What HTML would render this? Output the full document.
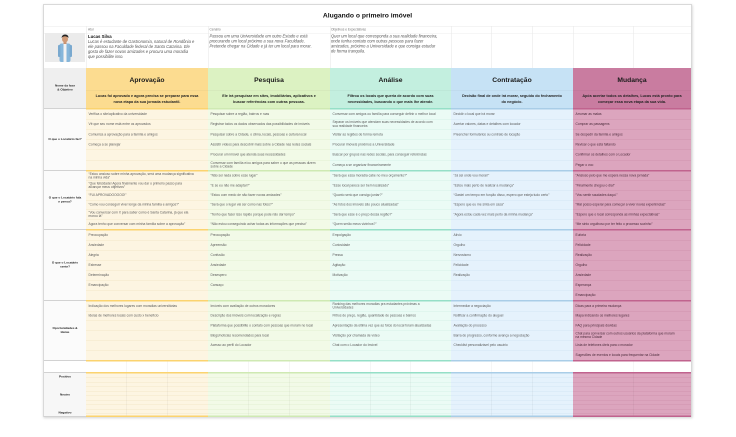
<!DOCTYPE html>
<html><head><meta charset="utf-8">
<style>
html,body{margin:0;padding:0;background:#fff;width:736px;height:437px;overflow:hidden}
#w{position:absolute;left:0;top:0;width:1472px;height:874px;transform:scale(.5);transform-origin:0 0;font-family:"Liberation Sans",sans-serif;color:#333}
.a{position:absolute}
.card{left:86px;top:8px;width:1298px;height:826px;border:2px solid #d9d9d9;box-sizing:border-box;background:#fff;box-shadow:1px 2px 5px rgba(0,0,0,.18)}
.title{left:88px;top:10px;width:1294px;height:42px;line-height:42px;text-align:center;font-weight:bold;font-size:13.5px;color:#111;border-bottom:1px solid #ececec}
.lab{top:53px;height:13px;line-height:13px;font-size:6.4px;color:#777}
.vl{width:1px;background:#e6e6e6}
.pt{font-size:8.2px;line-height:10px;font-style:italic;color:#555;white-space:nowrap}
.col{top:0;height:834px}
.h{position:absolute;left:0;right:0;top:136px;height:80px;background:var(--h)}
.h .t{position:absolute;left:0;right:0;top:12px;height:24px;line-height:24px;text-align:center;font-weight:bold;font-size:13.5px;color:#1a1a1a}
.h .d{position:absolute;left:0;right:0;top:44px;border-top:1px solid rgba(0,0,0,.06);padding-top:5px;text-align:center;font-weight:bold;font-size:7.5px;line-height:12px;color:#222;white-space:nowrap}
.g{position:absolute;left:0;right:0;display:flex;flex-direction:column;border-top:3px solid var(--l);background:var(--b);box-sizing:border-box}
.g>div{flex:1;display:flex;align-items:center;padding:0 5px;border-bottom:1px solid var(--s);font-size:6.6px;line-height:7.6px;color:#5a5a5a;white-space:nowrap;overflow:hidden}
.g>div:last-child{border-bottom:none}
.k{position:absolute;left:0;right:0;top:720px;height:24px;background:#fff;border-top:3px solid var(--l);box-sizing:border-box}
.e{position:absolute;left:0;right:0;top:744px;height:90px;background:var(--b);border-top:3px solid var(--l);border-bottom:3px solid var(--l);box-sizing:border-box;
 background-image:repeating-linear-gradient(180deg,transparent 0,transparent 8px,var(--s) 8px,var(--s) 9px)}
.sc{position:absolute;top:0;bottom:0;width:1px;background:rgba(0,0,0,.07)}
.s1{--h:#fcdc90;--b:#fdf5e2;--l:#fbd36f;--s:#f3e7c8}
.s2{--h:#dcf2c2;--b:#f2fae7;--l:#cfe9b3;--s:#e2f0d2}
.s3{--h:#c3efdf;--b:#ebfbf5;--l:#95dfc7;--s:#d5f0e7}
.s4{--h:#c6e2f5;--b:#e5f2fc;--l:#a9cde7;--s:#d2e5f3}
.s5{--h:#c97ca0;--b:#dca5be;--l:#c0638e;--s:#cf92ae}
.s5 .g>div{color:#4a2a3a}
.lg{position:absolute;left:0;right:0;border-top:2px solid #d2d2d2;background:#fbfbfb;box-sizing:border-box;display:flex;align-items:center;justify-content:center;text-align:center;font-weight:bold;font-size:6.2px;line-height:8px;color:#222}
</style></head><body><div id="w">
<div class="a card"></div>
<div class="a title">Alugando o primeiro imóvel</div>

<!-- label row -->
<div class="a" style="left:88px;top:52px;width:1294px;height:1px;background:#e8e8e8"></div>
<div class="a" style="left:88px;top:66px;width:1294px;height:1px;background:#ececec"></div>
<div class="a lab" style="left:176px">Ator</div>
<div class="a lab" style="left:419px">Cenário</div>
<div class="a lab" style="left:662px">Objetivos e Expectativas</div>
<div class="a vl" style="left:172px;top:52px;height:84px"></div>
<div class="a vl" style="left:416px;top:52px;height:84px"></div>
<div class="a vl" style="left:660px;top:52px;height:84px"></div>
<div class="a vl" style="left:902px;top:52px;height:84px"></div>
<div class="a vl" style="left:982px;top:52px;height:84px"></div>
<div class="a vl" style="left:1064px;top:52px;height:84px"></div>
<div class="a vl" style="left:1146px;top:52px;height:84px"></div>
<div class="a vl" style="left:1266px;top:52px;height:84px"></div>

<!-- photo -->
<div class="a" style="left:90px;top:66px;width:80px;height:58px;background:#ebebeb">
<svg width="80" height="58" viewBox="0 0 80 58">
<rect x="29" y="21" width="22" height="37" rx="4" fill="#86b6da"/>
<rect x="37" y="21" width="6" height="37" fill="#f2f2f2"/>
<rect x="26" y="24" width="5" height="24" rx="2" fill="#7aa9cf"/>
<rect x="49" y="24" width="5" height="24" rx="2" fill="#7aa9cf"/>
<rect x="37" y="17" width="6" height="5" fill="#c99270"/>
<ellipse cx="40" cy="12" rx="6" ry="7" fill="#d09a76"/>
<path d="M33 10 Q34 3 40 3 Q47 3 47 10 L45 8 Q40 5 35 8 Z" fill="#222"/>
</svg></div>

<!-- persona text -->
<div class="a" style="left:176px;top:68px;font-weight:bold;font-size:8.6px;color:#111">Lucas Silva</div>
<div class="a pt" style="left:176px;top:79px">Lucas é estudante de Gastronomia, natural de Rondônia e<br>ele passou na Faculdade federal de Santa Catarina. Ele<br>gosta de fazer novas amizades e procura uma moradia<br>que possibilite isso.</div>
<div class="a pt" style="left:419px;top:68px">Passou em uma Universidade em outro Estado e está<br>procurando um local próximo a sua nova Faculdade.<br>Pretende chegar na Cidade e já ter um local para morar.</div>
<div class="a pt" style="left:662px;top:68px">Quer um local que corresponda a sua realidade financeira,<br>onde tenha contato com outras pessoas para fazer<br>amizades, próximo a Universidade e que consiga estudar<br>de forma tranquila.</div>

<!-- left label column -->
<div class="a" style="left:88px;top:136px;width:84px;height:80px;background:#efefef;display:flex;align-items:center;justify-content:center;text-align:center;font-weight:bold;font-size:6.2px;line-height:8px;color:#222">Nome da fase<br>&amp; Objetivo</div>
<div class="a" style="left:88px;top:0;width:84px;height:834px">
<div class="lg" style="top:216px;height:124px">O que o Locatário faz?</div>
<div class="lg" style="top:340px;height:118px">O que o Locatário fala<br>e pensa?</div>
<div class="lg" style="top:458px;height:142px">O que o Locatário<br>sente?</div>
<div class="lg" style="top:600px;height:120px">Oportunidades &amp;<br>Ideias</div>
<div class="lg" style="top:720px;height:24px;background:#fff"></div>
<div class="lg" style="top:744px;height:90px;background:#f7f7f7;border-bottom:2px solid #d2d2d2;display:block">
<div style="position:absolute;left:0;right:0;top:4px">Positivo</div>
<div style="position:absolute;left:0;right:0;top:40px">Neutro</div>
<div style="position:absolute;left:0;right:0;top:76px">Negativo</div>
</div>
</div>

<!-- Stage 1 Aprovação -->
<div class="a col s1" style="left:172px;width:244px">
<div class="h"><div class="t">Aprovação</div><div class="d">Lucas foi aprovado e agora precisa se preparar para essa<br>nova etapa da sua jornada estudantil.</div></div>
<div class="g" style="top:216px;height:124px"><div>Verifica o site/aplicativo da universidade</div><div>Vê que seu nome está entre os aprovados</div><div>Comunica a aprovação para a família e amigos</div><div>Começa a se planejar</div><div></div><div></div></div>
<div class="g" style="top:340px;height:118px"><div>“Estou ansioso sobre minha aprovação, será uma mudança significativa<br>na minha vida”</div><div>“Que felicidade! Agora finalmente vou dar o primeiro passo para<br>alcançar meus objetivos”</div><div>“FUI APROVADOOOOO!”</div><div>“Como vou conseguir viver longe da minha família e amigos?”</div><div>“Vou conversar com X para saber como é Santa Catarina, já que ela<br>morou lá”</div><div>Agora tenho que conversar com minha família sobre a aprovação”</div></div>
<div class="g" style="top:458px;height:142px"><div>Preocupação</div><div>Ansiedade</div><div>Alegria</div><div>Estresse</div><div>Determinação</div><div>Emancipação</div><div></div></div>
<div class="g" style="top:600px;height:120px"><div>Indicação dos melhores lugares com moradias universitárias</div><div>Ideias de melhores locais com custo x benefício</div><div></div><div></div><div></div><div></div></div>
<div class="k"><div class="sc" style="left:81px"></div><div class="sc" style="left:162px"></div></div>
<div class="e"><div class="sc" style="left:81px"></div><div class="sc" style="left:162px"></div></div>
</div>

<!-- Stage 2 Pesquisa -->
<div class="a col s2" style="left:416px;width:244px">
<div class="h"><div class="t">Pesquisa</div><div class="d">Ele irá pesquisar em sites, imobiliárias, aplicativos e<br>buscar referências com outras pessoas.</div></div>
<div class="g" style="top:216px;height:124px"><div>Pesquisar sobre a região, bairros e ruas</div><div>Registrar todos os dados observados das possibilidades de imóveis</div><div>Pesquisar sobre a Cidade, o clima, locais, pessoas e cultura local</div><div>Assistir vídeos para descobrir mais sobre a Cidade nas redes sociais</div><div>Procurar um imóvel que atenda suas necessidades</div><div>Conversar com família e/ou amigos para saber o que as pessoas dizem<br>sobre a Cidade</div></div>
<div class="g" style="top:340px;height:118px"><div>“Não sei nada sobre esse lugar”</div><div>“E se eu não me adaptar?”</div><div>“Estou com medo de não fazer novas amizades”</div><div>“Será que o lugar vai ser como nas fotos?”</div><div>“Tenho que fazer isso rápido porque pode não dar tempo”</div><div>“Não estou conseguindo achar todas as informações que preciso”</div></div>
<div class="g" style="top:458px;height:142px"><div>Preocupação</div><div>Apreensão</div><div>Confusão</div><div>Ansiedade</div><div>Desespero</div><div>Cansaço</div><div></div></div>
<div class="g" style="top:600px;height:120px"><div>Imóveis com avaliação de outros moradores</div><div>Descrição dos imóveis com localização e regras</div><div>Plataforma que possibilite o contato com pessoas que moram no local</div><div>Blogs/notícias recomendados para local</div><div>Acesso ao perfil do Locador</div><div></div></div>
<div class="k"><div class="sc" style="left:81px"></div><div class="sc" style="left:162px"></div></div>
<div class="e"><div class="sc" style="left:81px"></div><div class="sc" style="left:162px"></div></div>
</div>

<!-- Stage 3 Análise -->
<div class="a col s3" style="left:660px;width:242px">
<div class="h"><div class="t">Análise</div><div class="d">Filtrou os locais que queria de acordo com suas<br>necessidades, buscando o que mais lhe atende.</div></div>
<div class="g" style="top:216px;height:124px"><div>Conversar com amigos ou família para conseguir definir o melhor local</div><div>Separar os imóveis que atendam suas necessidades de acordo com<br>sua realidade financeira</div><div>Visitar as regiões de forma remota</div><div>Procurar imóveis próximos a Universidade</div><div>Buscar por grupos nas redes sociais, para conseguir referências</div><div>Começa a se organizar financeiramente</div></div>
<div class="g" style="top:340px;height:118px"><div>“Será que essa moradia cabe no meu orçamento?”</div><div>“Esse local parece ser bem localizado”</div><div>“Quanto será que consigo juntar?”</div><div>“As fotos dos imóveis são pouco atualizadas”</div><div>“Será que esse é o preço dessa região?”</div><div>“Quem serão meus vizinhos?”</div></div>
<div class="g" style="top:458px;height:142px"><div>Empolgação</div><div>Curiosidade</div><div>Pressa</div><div>Agitação</div><div>Motivação</div><div></div><div></div></div>
<div class="g" style="top:600px;height:120px"><div>Ranking das melhores moradias pra estudantes próximas a<br>Universidades</div><div>Filtros de preço, região, quantidade de pessoas e bairros</div><div>Apresentação da última vez que as fotos do local foram atualizadas</div><div>Visitação por chamada de vídeo</div><div>Chat com o Locador do Imóvel</div><div></div></div>
<div class="k"><div class="sc" style="left:80px"></div><div class="sc" style="left:161px"></div></div>
<div class="e"><div class="sc" style="left:80px"></div><div class="sc" style="left:161px"></div></div>
</div>

<!-- Stage 4 Contratação -->
<div class="a col s4" style="left:902px;width:244px">
<div class="h"><div class="t">Contratação</div><div class="d">Decisão final de onde irá morar, seguido do fechamento<br>do negócio.</div></div>
<div class="g" style="top:216px;height:124px"><div>Decidir o local que irá morar</div><div>Acertar valores, datas e detalhes com locador</div><div>Preencher formulários ou contrato de locação</div><div></div><div></div><div></div></div>
<div class="g" style="top:340px;height:118px"><div>“Já sei onde vou morar!”</div><div>“Estou mais perto de realizar a mudança”</div><div>“Gastei um tempo em função disso, espero que esteja tudo certo”</div><div>“Espero que eu me sinta em casa”</div><div>“Agora estou cada vez mais perto da minha mudança”</div><div></div></div>
<div class="g" style="top:458px;height:142px"><div>Alívio</div><div>Orgulho</div><div>Nervosismo</div><div>Felicidade</div><div>Realização</div><div></div><div></div></div>
<div class="g" style="top:600px;height:120px"><div>Intermediar a negociação</div><div>Notificar a confirmação do aluguel</div><div>Avaliação do processo</div><div>Barra de progresso, conforme avança a negociação</div><div>Checklist personalizável pelo usuário</div><div></div></div>
<div class="k"><div class="sc" style="left:81px"></div><div class="sc" style="left:162px"></div></div>
<div class="e"><div class="sc" style="left:81px"></div><div class="sc" style="left:162px"></div></div>
</div>

<!-- Stage 5 Mudança -->
<div class="a col s5" style="left:1146px;width:236px">
<div class="h"><div class="t">Mudança</div><div class="d">Após acertar todos os detalhes, Lucas está pronto para<br>começar essa nova etapa da sua vida.</div></div>
<div class="g" style="top:216px;height:124px"><div>Arrumar as malas</div><div>Comprar as passagens</div><div>Se despedir da família e amigos</div><div>Revisar o que está faltando</div><div>Confirmar os detalhes com o Locador</div><div>Pegar o voo</div></div>
<div class="g" style="top:340px;height:118px"><div>“Ansioso pelo que me espera nessa nova jornada”</div><div>“Finalmente chegou o dia!”</div><div>“Vou sentir saudades daqui.”</div><div>“Mal posso esperar para começar a viver novas experiências”</div><div>“Espero que o local corresponda as minhas expectativas”</div><div>“Me sinto orgulhoso por ter feito o processo sozinho”</div></div>
<div class="g" style="top:458px;height:142px"><div>Euforia</div><div>Felicidade</div><div>Realização</div><div>Orgulho</div><div>Ansiedade</div><div>Esperança</div><div>Emancipação</div></div>
<div class="g" style="top:600px;height:120px"><div>Dicas para a primeira mudança</div><div>Mapa indicando os melhores lugares</div><div>FAQ para principais dúvidas</div><div>Chat para conversar com outros usuários da plataforma que moram<br>na mesma Cidade</div><div>Lista de telefones úteis para o morador</div><div>Sugestões de eventos e locais para frequentar na Cidade</div></div>
<div class="k"><div class="sc" style="left:120px"></div></div>
<div class="e"><div class="sc" style="left:120px"></div></div>
</div>

</div></body></html>
